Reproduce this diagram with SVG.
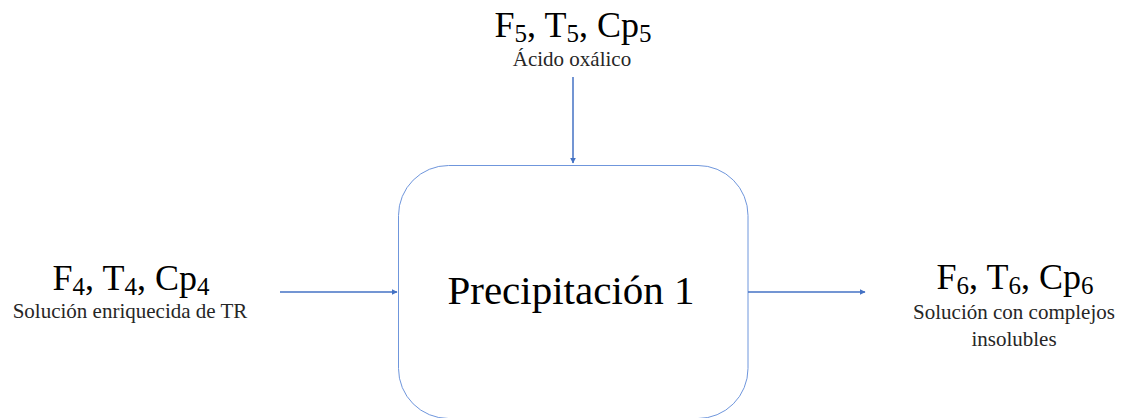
<svg xmlns="http://www.w3.org/2000/svg" width="1123" height="418" viewBox="0 0 1123 418">
<defs>
<marker id="ah" viewBox="0 0 10 10" refX="9" refY="5" markerWidth="6" markerHeight="6" orient="auto" markerUnits="userSpaceOnUse">
<path d="M0,0 L10,5 L0,10 z" fill="#4472c4"/>
</marker>
</defs>
<g id="process">
<rect x="398.5" y="165.5" width="349.5" height="253" rx="50" ry="50" fill="#fff" stroke="#6f96dc" stroke-width="1"/>
<text font-family="Liberation Serif" font-size="41" fill="#000" x="571" y="304" text-anchor="middle">Precipitación 1</text>
</g>
<g id="input-top">
<text font-family="Liberation Serif" font-size="36" fill="#000" x="573" y="37" text-anchor="middle">F<tspan font-size="25" dy="5">5</tspan><tspan dy="-5">, T</tspan><tspan font-size="25" dy="5">5</tspan><tspan dy="-5">, Cp</tspan><tspan font-size="25" dy="5">5</tspan></text>
<text font-family="Liberation Serif" font-size="21" fill="#262626" x="572" y="66" text-anchor="middle">Ácido oxálico</text>
</g>
<g id="input-left">
<text font-family="Liberation Serif" font-size="36" fill="#000" x="131" y="290" text-anchor="middle">F<tspan font-size="25" dy="5">4</tspan><tspan dy="-5">, T</tspan><tspan font-size="25" dy="5">4</tspan><tspan dy="-5">, Cp</tspan><tspan font-size="25" dy="5">4</tspan></text>
<text font-family="Liberation Serif" font-size="21" fill="#262626" x="130" y="318" text-anchor="middle">Solución enriquecida de TR</text>
</g>
<g id="output-right">
<text font-family="Liberation Serif" font-size="36" fill="#000" x="1015" y="289" text-anchor="middle">F<tspan font-size="25" dy="5">6</tspan><tspan dy="-5">, T</tspan><tspan font-size="25" dy="5">6</tspan><tspan dy="-5">, Cp</tspan><tspan font-size="25" dy="5">6</tspan></text>
<text font-family="Liberation Serif" font-size="21" fill="#262626" x="1014" y="319" text-anchor="middle">Solución con complejos</text>
<text font-family="Liberation Serif" font-size="21" fill="#262626" x="1014" y="346" text-anchor="middle">insolubles</text>
</g>
<g id="connectors" stroke="#4472c4" stroke-width="1.5" fill="none">
<line x1="573" y1="77" x2="573" y2="163" marker-end="url(#ah)"/>
<line x1="280" y1="292" x2="397" y2="292" marker-end="url(#ah)"/>
<line x1="748" y1="292" x2="865" y2="292" marker-end="url(#ah)"/>
</g>
</svg>
